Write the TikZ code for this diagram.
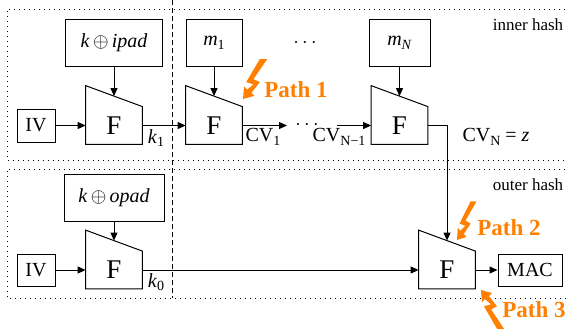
\documentclass[tikz,border=0pt]{standalone}
\usepackage{fontspec}
\setmainfont{Liberation Serif}
\usetikzlibrary{calc,arrows.meta}
\definecolor{pathorange}{RGB}{255,128,0}
\newcommand\lsub[1]{\raisebox{-0.4ex}{\fontsize{7}{8}\selectfont #1}}
\newcommand\trapF[1]{%
  \draw[trap] (#1.south west) -- (#1.south east) -- (#1.north east) -- ($(#1.north west)+(0,-21)$) -- cycle;
  \coordinate (#1t) at ($(#1.north)+(0,-10.5)$);}
\begin{document}
\begin{tikzpicture}[x=0.5pt,y=-0.5pt,
  box/.style={draw,line width=0.5pt,inner sep=0pt,font=\fontsize{10}{12}\selectfont},
  fbox/.style={inner sep=0pt,minimum width=28pt,minimum height=18.5pt,font=\fontsize{13.5}{16}\selectfont},
  arr/.style={line width=0.5pt,-{Triangle[length=4pt,width=3.5pt]}},
  lbl/.style={font=\fontsize{10}{12}\selectfont,inner sep=0pt},
  hashlbl/.style={font=\fontsize{8.5}{10}\selectfont,inner sep=0pt},
  pathlbl/.style={font=\fontsize{11.5}{14}\selectfont\bfseries,text=pathorange,inner sep=0pt,anchor=west},
  trap/.style={draw,line width=0.5pt,line join=miter},
  region/.style={dotted,line width=0.5pt},
  bolt/.pic={\fill[pathorange] (0,0) -- (11,-3) -- (8,-6) -- (16,-16) -- (10,-19) -- (23,-38) -- (16,-38) -- (3,-16) -- (10,-14) -- (4,-9) -- (1,-12) -- cycle;}
]
\useasboundingbox (0,0) rectangle (568,329);
% regions
\draw[region] (585,9) -- (7,9) -- (7,160) -- (585,160);
\draw[region] (585,169) -- (7,169) -- (7,298) -- (585,298);
\draw[line width=0.5pt,dash pattern=on 2.5pt off 1.5pt] (172,0) -- (172,298);
\node[hashlbl] (inner) at (528,25) {inner hash};
\node[hashlbl] (outer) at (528,185) {outer hash};
% inner hash
\node[box,minimum width=48.5pt,minimum height=23.5pt] (ipad) at (114,42.5) {\textit{k}$\,\oplus\,$\textit{ipad}};
\node[box,minimum width=19pt,minimum height=16.5pt] (iv1) at (36,125.5) {IV};
\node[fbox] (f1) at (114,125.5) {F};
\trapF{f1}
\node[box,minimum width=28pt,minimum height=23.5pt] (m1) at (214,42.5) {\textit{m}\lsub{1}};
\node[fbox] (f2) at (214,125.5) {F};
\trapF{f2}
\node[box,minimum width=30.5pt,minimum height=23.5pt] (mN) at (399.5,42.5) {\textit{m}\lsub{\textit{N}}};
\node[fbox] (fN) at (399.5,125.5) {F};
\trapF{fN}
\coordinate (cv1end) at (287,125.5);
\coordinate (cvnstart) at (337,125.5);
\node[lbl] (dots1) at (305,43) {$\cdots$};
\node[lbl] (dots2) at (307,125.5) {$\cdots$};
\node[lbl] (k1) at (156,138) {\textit{k}\lsub{1}};
\node[lbl] (cv1) at (263,137) {CV\lsub{1}};
\node[lbl] (cvn1) at (339,137) {CV\lsub{N−1}};
\node[lbl] (cvn) at (496,137) {CV\lsub{N} = \textit{z}};
% outer hash
\node[box,minimum width=50pt,minimum height=23.5pt] (opad) at (114,197.5) {\textit{k}$\,\oplus\,$\textit{opad}};
\node[box,minimum width=19pt,minimum height=16pt] (iv2) at (36,270) {IV};
\node[fbox] (g1) at (114,270) {F};
\trapF{g1}
\node[fbox] (g2) at (447,270) {F};
\trapF{g2}
\node[box,minimum width=32pt,minimum height=16pt] (mac) at (530,270) {MAC};
\node[lbl] (k0) at (156,282) {\textit{k}\lsub{0}};
% connectors
\draw[arr] (iv1.east) -- (f1.west);
\draw[arr] (ipad.south) -- (f1t);
\draw[arr] (f1.east) -- (f2.west);
\draw[arr] (m1.south) -- (f2t);
\draw[arr] (f2.east) -- (cv1end);
\draw[arr] (cvnstart) -- (fN.west);
\draw[arr] (mN.south) -- (fNt);
\draw[arr] (fN.east) -| (g2t);
\draw[arr] (iv2.east) -- (g1.west);
\draw[arr] (opad.south) -- (g1t);
\draw[arr] (g1.east) -- (g2.west);
\draw[arr] (g2.east) -- (mac.west);
% attack paths
\pic[scale=1.05] (bolt1) at (243,99) {bolt};
\node[pathlbl] (p1) at (264,90) {Path 1};
\pic[xscale=0.85,yscale=1.02] (bolt2) at (457,240) {bolt};
\node[pathlbl] (p2) at (477,228) {Path 2};
\pic[yscale=-1.02] (bolt3) at (481,290) {bolt};
\node[pathlbl] (p3) at (502,310) {Path 3};
\end{tikzpicture}
\end{document}
